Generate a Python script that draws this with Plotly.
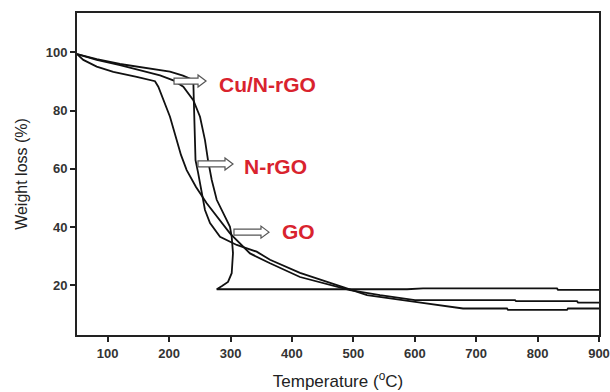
import plotly.graph_objects as go

# --- data ---
go_temp = [50, 60.3, 82.1, 109.1, 147.2, 171.6, 177, 182.4, 190.5, 201.4, 212.3, 219.3, 228.6,
           243.8, 261.2, 279.6, 299.1, 331.7, 364.3, 413.1, 466.9, 494.6, 543.4, 600.4, 763.2,
           764.9, 864.2, 865.9, 900]
go_weight = [99.4, 97.4, 95.1, 93.3, 91.6, 90.3, 90.1, 88.2, 83.6, 77.9, 69.9, 64.8, 59.6,
             53.8, 48.2, 43.1, 37.9, 31.0, 27.6, 22.9, 19.8, 18.4, 16.7, 15.0, 15.0,
             14.6, 14.6, 14.1, 14.1]

nrgo_temp = [50, 82.1, 120.0, 163.5, 201.4, 222.6, 234.0, 239.4, 240.2, 241.0, 243.0, 247.0,
             253.1, 258.4, 266.6, 282.9, 310.1, 342.6, 364.3, 413.1, 483.2, 522.2, 603.7,
             678.6, 750.2, 751.8, 847.9, 849.5, 900]
nrgo_weight = [99.4, 97.7, 96.0, 94.5, 93.4, 92.0, 91.0, 90.5, 83.6, 73.3, 63.0, 58.9,
               51.6, 45.9, 41.4, 36.7, 33.9, 31.6, 28.8, 24.3, 19.4, 16.7, 14.3,
               12.1, 12.1, 11.6, 11.6, 12.1, 12.1]

cu_temp = [50, 82.1, 120.0, 152.6, 185.2, 206.8, 223.1, 239.4, 250.3, 258.4, 263.3, 269.4,
           277.5, 291.0, 299.1, 301.9, 304.0, 301.9, 295.9, 286.1, 277.5, 286.1, 587.4,
           613.4, 831.6, 833.2, 900]
cu_weight = [99.4, 97.4, 95.6, 93.8, 92.1, 90.4, 88.2, 83.6, 77.9, 69.9, 63.0, 56.2,
             49.4, 43.6, 40.1, 36.7, 31.1, 24.2, 21.2, 19.8, 18.7, 18.7, 18.7,
             19.0, 19.0, 18.5, 18.5]

x_ticks = [100, 200, 300, 400, 500, 600, 700, 800, 900]
y_ticks = [20, 40, 60, 80, 100]

labels = ["Cu/N-rGO", "N-rGO", "GO"]
# arrow: tail x, tip x, y ; label: left x, y
arrow_tail = [208.0, 247.0, 305.6]
arrow_tip = [260.1, 304.0, 362.6]
arrow_y = [90.15, 61.7, 38.3]
label_x = [277.4, 318.2, 380.6]
label_y = [88.8, 60.7, 38.4]

fig = go.Figure()
for t, w, name in [(go_temp, go_weight, "GO"), (nrgo_temp, nrgo_weight, "N-rGO"),
                   (cu_temp, cu_weight, "Cu/N-rGO")]:
    fig.add_trace(go.Scatter(x=t, y=w, mode="lines", name=name,
                             line=dict(color="#111111", width=1.8), showlegend=False))

# hollow block arrows
body_h = 1.03
head_h = 2.06
head_len = 13.0
for x0, x1, y in zip(arrow_tail, arrow_tip, arrow_y):
    xb = x1 - head_len
    path = (f"M {x0},{y - body_h} L {xb},{y - body_h} L {xb},{y - head_h} L {x1},{y} "
            f"L {xb},{y + head_h} L {xb},{y + body_h} L {x0},{y + body_h} Z")
    fig.add_shape(type="path", path=path, xref="x", yref="y",
                  line=dict(color="#555555", width=1.2), fillcolor="white", layer="above")

for text, x, y in zip(labels, label_x, label_y):
    fig.add_annotation(x=x, y=y, text=text, showarrow=False, xanchor="left", yanchor="middle",
                       font=dict(family="Liberation Sans, Arial", size=21, color="#d9232e",
                                 weight="bold"))

axis_common = dict(showline=True, linecolor="#222222", linewidth=2, mirror=True,
                   ticks="outside", ticklen=5, tickwidth=1.5, tickcolor="#222222",
                   showgrid=False, zeroline=False, automargin=False,
                   tickfont=dict(family="Liberation Sans, Arial", size=13, color="#333333",
                                 weight="bold"))

fig.update_layout(
    width=610, height=392,
    margin=dict(l=77, r=11, t=13, b=57),
    paper_bgcolor="white", plot_bgcolor="white",
    xaxis=dict(range=[50, 900], tickvals=x_ticks,
               title=dict(text="Temperature (<sup>o</sup>C)", standoff=16,
                          font=dict(family="Liberation Sans, Arial", size=17, color="#222222")),
               **axis_common),
    yaxis=dict(range=[3, 113.5], tickvals=y_ticks,
               title=dict(text="Weight loss (%)", standoff=14,
                          font=dict(family="Liberation Sans, Arial", size=16, color="#222222")),
               **axis_common),
)

fig.write_html("out.html", config={"displayModeBar": False},
               post_script="document.body.style.margin='0px';document.body.style.overflow='hidden';")
